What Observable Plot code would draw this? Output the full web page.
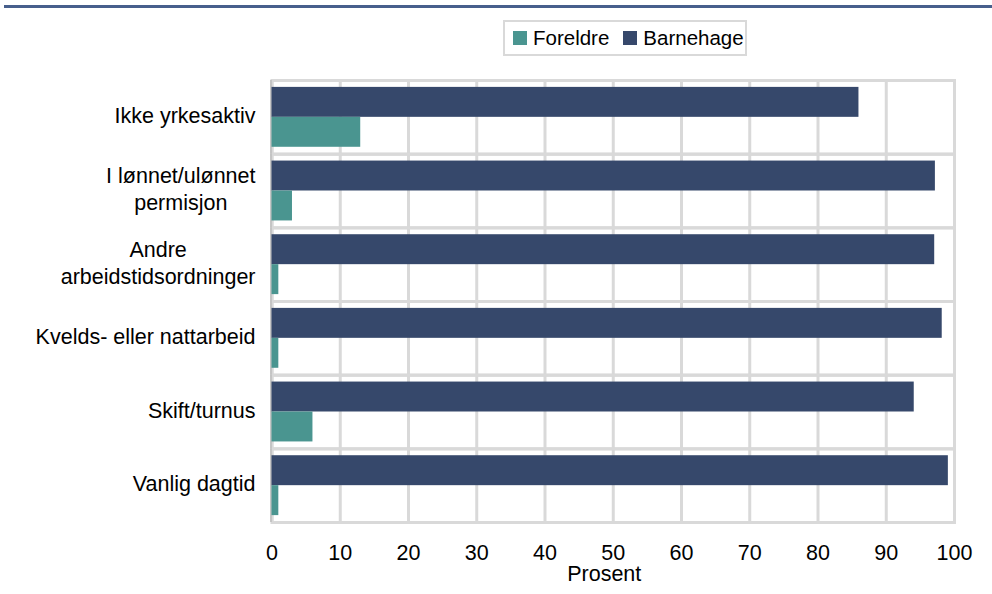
<!DOCTYPE html>
<html>
<head>
<meta charset="utf-8">
<script src="https://cdn.jsdelivr.net/npm/d3@7"></script>
<script src="https://cdn.jsdelivr.net/npm/@observablehq/plot@0.6"></script>
<style>
  html, body { margin: 0; padding: 0; background: #fff; }
  #wrap { position: relative; width: 992px; height: 594px; font-family: "Liberation Sans", Arial, sans-serif; }
  #topline { position: absolute; left: 4px; top: 5px; width: 988px; height: 3px; background: #475f8c; }
  #legend { position: absolute; left: 503px; top: 20px; width: 244px; height: 36px; border: 2px solid #d9d9d9; box-sizing: border-box; display: flex; align-items: center; padding-left: 8px; font-size: 20.5px; color: #000; white-space: nowrap; }
  #legend .item { display: inline-flex; align-items: center; margin-right: 14px; }
  #legend .sw { display: inline-block; width: 14px; height: 14px; margin-right: 6px; }
  #chart { position: absolute; left: 0; top: 0; }
</style>
</head>
<body>
<div id="wrap">
  <div id="chart"></div>
  <div id="topline"></div>
  <div id="legend"></div>
</div>
<script>
const categories = [
  "Ikke yrkesaktiv",
  "I lønnet/ulønnet\npermisjon",
  "Andre\narbeidstidsordninger",
  "Kvelds- eller nattarbeid",
  "Skift/turnus",
  "Vanlig dagtid"
];
const series = ["Foreldre", "Barnehage"];
const colors = ["#4a9590", "#36486b"];
const foreldre = [13, 3, 1, 1, 6, 1];
const barnehage = [86, 97.2, 97.1, 98.2, 94.1, 99.1];
const xTicks = [0, 10, 20, 30, 40, 50, 60, 70, 80, 90, 100];
const xLabel = "Prosent";

const rows = [];
categories.forEach((c, i) => {
  rows.push({category: c, series: "Barnehage", value: barnehage[i]});
  rows.push({category: c, series: "Foreldre", value: foreldre[i]});
});

const font = "Liberation Sans, Arial, sans-serif";
const fs = 21.5;

const chart = Plot.plot({
  width: 992,
  height: 594,
  marginLeft: 271.5,
  marginRight: 38,
  marginTop: 80,
  marginBottom: 72,
  style: {fontFamily: font, fontSize: fs + "px", color: "#000", background: "transparent"},
  x: {domain: [0, 100], axis: null},
  y: {domain: ["Barnehage", "Foreldre"], paddingInner: 0, paddingOuter: 0.23, round: false, axis: null},
  fy: {domain: categories, padding: 0, round: false, axis: null},
  color: {domain: series, range: colors},
  marks: [
    Plot.ruleX(xTicks, {x: d => d, stroke: "#d9d9d9", strokeWidth: 3, strokeOpacity: 1}),
    Plot.frame({stroke: "#d9d9d9", strokeWidth: 3, strokeOpacity: 1}),
    Plot.ruleX([0], {x: d => d, stroke: "#bdbdbd", strokeWidth: 1.5, dx: -1}),
    Plot.barX(rows, {x: "value", y: "series", fy: "category", fill: "series"}),
    Plot.axisX({ticks: xTicks, tickSize: 0, tickPadding: 22, label: null, fontSize: fs, fill: "#000", tickFormat: d => String(d)}),
    Plot.axisFy({anchor: "left", tickSize: 0, tickPadding: 16.5, label: null, fontSize: fs, lineHeight: 1.27, fill: "#000", dy: -3}),
    Plot.text([xLabel], {text: d => d, frameAnchor: "bottom", facet: "super", dy: 52, dx: -9, lineAnchor: "middle", fontSize: fs, fill: "#000"})
  ]
});
document.getElementById("chart").appendChild(chart);

// center the lines of multi-line category labels relative to each other
chart.querySelectorAll('g[aria-label="fy-axis tick label"] text').forEach(t => {
  const spans = t.querySelectorAll("tspan");
  if (spans.length < 2) return;
  let maxW = 0;
  spans.forEach(s => { maxW = Math.max(maxW, s.getComputedTextLength()); });
  t.setAttribute("text-anchor", "middle");
  spans.forEach(s => {
    const x0 = parseFloat(s.getAttribute("x") || "0");
    s.setAttribute("x", x0 - maxW / 2);
  });
});

// legend built from the same series/colour arrays
const lg = d3.select("#legend");
series.forEach((s, i) => {
  const it = lg.append("span").attr("class", "item");
  it.append("span").attr("class", "sw").style("background", colors[i]);
  it.append("span").text(s);
});
</script>
</body>
</html>
